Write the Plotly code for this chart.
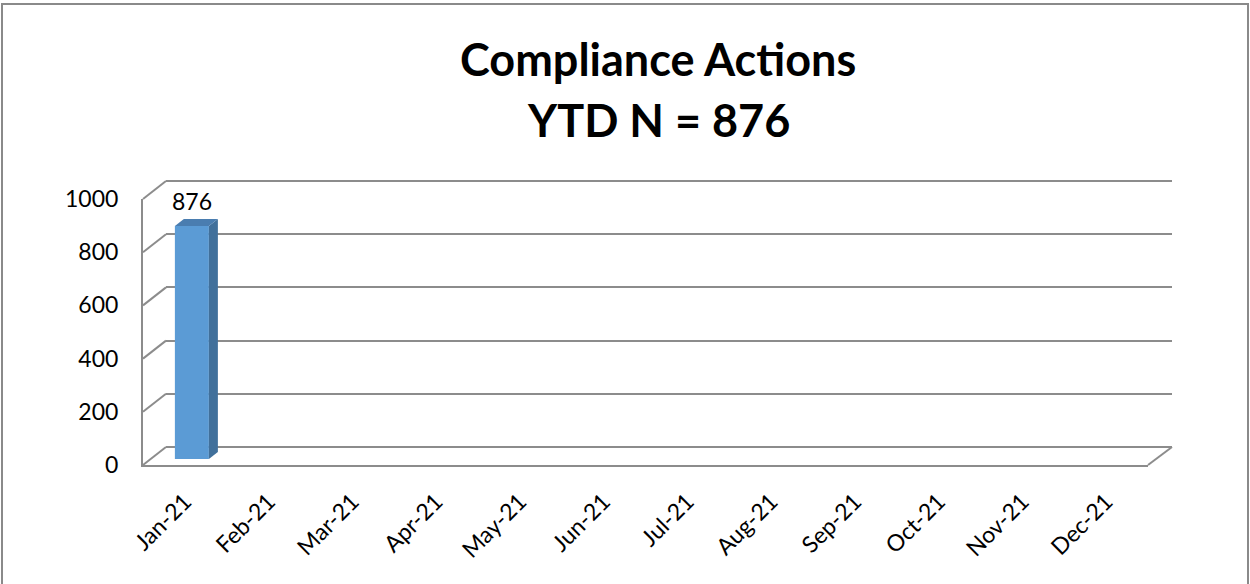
import plotly.graph_objects as go

# ---- data ----
months = ["Jan-21", "Feb-21", "Mar-21", "Apr-21", "May-21", "Jun-21",
          "Jul-21", "Aug-21", "Sep-21", "Oct-21", "Nov-21", "Dec-21"]
actions = [876, None, None, None, None, None, None, None, None, None, None, None]
y_ticks = [0, 200, 400, 600, 800, 1000]
title_line1 = "Compliance Actions"
title_line2 = "YTD N = 876"

# ---- geometry (pixels) ----
W, H = 1250, 584
FRONT = dict(x0=143, x1=1148, y0=465, y1=199)   # front plane
BARP = dict(x0=150, x1=1155, y0=459, y1=193)    # plane of the bars
BACK = dict(x0=166, x1=1172, y0=447, y1=181)    # back wall
YMAX = 1000
GRID = "#8c8c8c"

def px(x):
    return x / W

def py(y):
    return 1 - y / H

def yval(plane, v):
    return plane["y0"] + (plane["y1"] - plane["y0"]) * v / YMAX

n = len(months)
xr = [-0.5, n - 0.5]
cat_px = (BARP["x1"] - BARP["x0"]) / n
val_px = (BARP["y0"] - BARP["y1"]) / YMAX
bar_w = 34 / cat_px
ddx = 9 / cat_px      # bar depth, category units
ddy = 7 / val_px      # bar depth, value units

# back wall axis padded so that the edge gridlines (0 and 1000) are drawn
PAD = 20
back_k = (BACK["y0"] - BACK["y1"]) / YMAX
back_dom = [py(BACK["y0"] + PAD * back_k), py(BACK["y1"] - PAD * back_k)]

fig = go.Figure()

# back wall (xy) - gridlines
fig.add_trace(go.Scatter(x=[None], y=[None], xaxis="x", yaxis="y", showlegend=False, hoverinfo="skip"))

# bars (x2y2)
idx = [i for i, v in enumerate(actions) if v is not None]
vals = [actions[i] for i in idx]
fig.add_trace(go.Bar(x=idx, y=vals, width=bar_w, xaxis="x2", yaxis="y2",
                     marker=dict(color="#5b9bd5", line=dict(width=0)), showlegend=False))
for i, v in zip(idx, vals):
    r = i + bar_w / 2
    l = i - bar_w / 2
    fig.add_trace(go.Scatter(x=[r, r, r + ddx, r + ddx, r], y=[0, v, v + ddy, ddy, 0],
                             fill="toself", fillcolor="#41709b", mode="lines",
                             line=dict(width=0, color="#41709b"), xaxis="x2", yaxis="y2",
                             showlegend=False, hoverinfo="skip"))
    fig.add_trace(go.Scatter(x=[l, r, r + ddx, l + ddx, l], y=[v, v, v + ddy, v + ddy, v],
                             fill="toself", fillcolor="#4a7db0", mode="lines",
                             line=dict(width=0, color="#4a7db0"), xaxis="x2", yaxis="y2",
                             showlegend=False, hoverinfo="skip"))
    fig.add_annotation(x=i, y=v, xref="x2", yref="y2", text=str(v), showarrow=False,
                       yanchor="bottom", yshift=9, font=dict(family="Lato", size=23, color="black"))

# front axes (x3y3)
fig.add_trace(go.Scatter(x=[None], y=[None], xaxis="x3", yaxis="y3", showlegend=False, hoverinfo="skip"))

hidden = dict(showgrid=False, zeroline=False, showline=False, showticklabels=False, ticks="")

fig.update_layout(
    width=W, height=H,
    margin=dict(l=0, r=0, t=0, b=0, pad=0, autoexpand=False),
    paper_bgcolor="white", plot_bgcolor="rgba(0,0,0,0)",
    showlegend=False,
    xaxis=dict(domain=[px(BACK["x0"]), px(BACK["x1"])], range=xr, **hidden),
    yaxis=dict(domain=back_dom, range=[-PAD, YMAX + PAD],
               showgrid=True, gridcolor=GRID, gridwidth=2, tickvals=y_ticks,
               zeroline=False, showline=False, showticklabels=False, ticks=""),
    xaxis2=dict(domain=[px(BARP["x0"]), px(BARP["x1"])], range=xr, anchor="y2", **hidden),
    yaxis2=dict(domain=[py(BARP["y0"]), py(BARP["y1"])], range=[0, YMAX], anchor="x2", **hidden),
    xaxis3=dict(domain=[px(FRONT["x0"]), px(FRONT["x1"])], range=xr, anchor="y3",
                tickvals=list(range(n)), ticktext=months, tickangle=-45,
                showline=True, linecolor=GRID, linewidth=2, showgrid=False, zeroline=False,
                ticks="", ticklabelstandoff=12, automargin=False,
                tickfont=dict(family="Lato", size=23, color="black")),
    yaxis3=dict(domain=[py(FRONT["y0"]), py(FRONT["y1"])], range=[0, YMAX], anchor="x3",
                tickvals=y_ticks, showline=True, linecolor=GRID, linewidth=2,
                showgrid=False, zeroline=False, ticks="", ticklabelstandoff=18, automargin=False,
                tickfont=dict(family="Lato", size=23, color="black")),
)

# title as two annotations
fig.add_annotation(x=px(658), y=py(59), xref="paper", yref="paper", text="<b>" + title_line1 + "</b>",
                   showarrow=False, xanchor="center", yanchor="middle",
                   font=dict(family="Lato", size=45, color="black"))
fig.add_annotation(x=px(658), y=py(120), xref="paper", yref="paper", text="<b>" + title_line2 + "</b>",
                   showarrow=False, xanchor="center", yanchor="middle",
                   font=dict(family="Lato", size=45, color="black"))

shapes = []
# left side-wall diagonals at each tick
for v in y_ticks:
    shapes.append(dict(type="line", xref="paper", yref="paper",
                       x0=px(FRONT["x0"]), y0=py(yval(FRONT, v)),
                       x1=px(BACK["x0"]), y1=py(yval(BACK, v)),
                       line=dict(color=GRID, width=2)))
# right floor diagonal
shapes.append(dict(type="line", xref="paper", yref="paper",
                   x0=px(FRONT["x1"]), y0=py(yval(FRONT, 0)),
                   x1=px(BACK["x1"]), y1=py(yval(BACK, 0)),
                   line=dict(color=GRID, width=2)))
# outer chart border
shapes.append(dict(type="rect", xref="paper", yref="paper",
                   x0=px(2), y0=py(600), x1=px(1248), y1=py(4),
                   line=dict(color="#8a8a8a", width=2)))
fig.update_layout(shapes=shapes)

fig.write_html("out.html", config={"displayModeBar": False},
               post_script="document.body.style.margin='0px';document.body.style.overflow='hidden';")
